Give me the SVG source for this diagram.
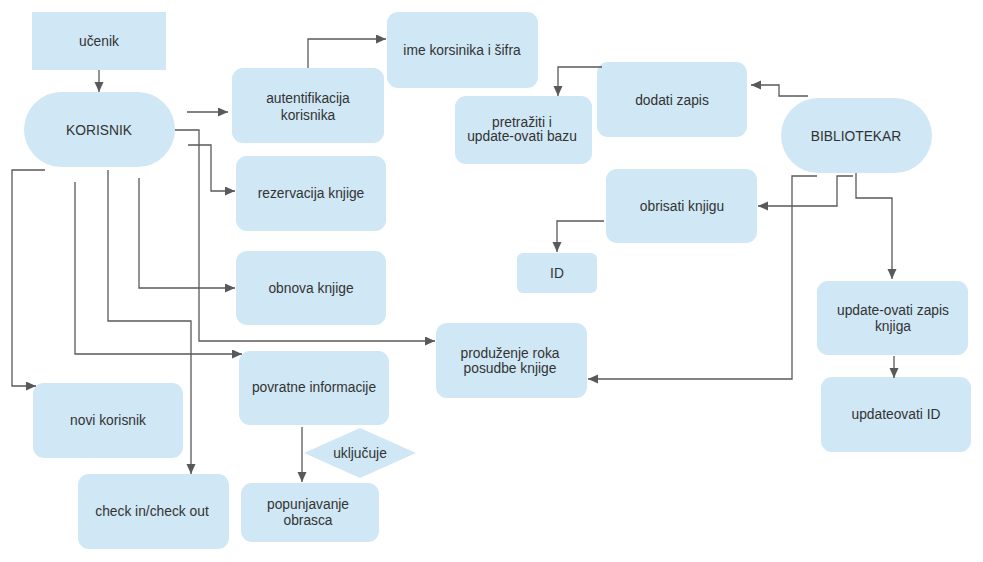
<svg xmlns="http://www.w3.org/2000/svg" width="983" height="562" viewBox="0 0 983 562">
<style>
.n{fill:#d0e7f5;stroke:none}
.t{font-family:"Liberation Sans",Arial,sans-serif;font-size:13.8px;fill:#333;text-anchor:middle}
.c{fill:none;stroke:#595959;stroke-width:1.3}
</style>
<defs>
<marker id="a" markerUnits="userSpaceOnUse" markerWidth="11" markerHeight="10" refX="10" refY="4.5" orient="auto">
<path d="M0,0 L10,4.5 L0,9 z" fill="#595959"/>
</marker>
</defs>
<rect width="983" height="562" fill="#fff"/>
<g id="ucenik"><rect class="n" x="32" y="12" width="134" height="58"/><text class="t" x="99" y="46">učenik</text></g>
<g id="korisnik"><rect class="n" x="24" y="92" width="151" height="75" rx="37.5"/><text class="t" x="99" y="135">KORISNIK</text></g>
<g id="autentifikacija"><rect class="n" x="232" y="68" width="152" height="75" rx="11"/><text class="t" x="308" y="103">autentifikacija</text><text class="t" x="308" y="120">korisnika</text></g>
<g id="ime"><rect class="n" x="387" y="12" width="151" height="76" rx="11"/><text class="t" x="462" y="55">ime korsinika i šifra</text></g>
<g id="pretraziti"><rect class="n" x="455" y="96" width="137" height="68" rx="11"/><text class="t" x="522" y="127">pretražiti i</text><text class="t" x="522" y="141">update-ovati bazu</text></g>
<g id="dodati"><rect class="n" x="597" y="62" width="150" height="75" rx="11"/><text class="t" x="672" y="105">dodati zapis</text></g>
<g id="bibliotekar"><rect class="n" x="781" y="98" width="151" height="75" rx="37.5"/><text class="t" x="856" y="141">BIBLIOTEKAR</text></g>
<g id="rezervacija"><rect class="n" x="236" y="156" width="150" height="75" rx="11"/><text class="t" x="311" y="198">rezervacija knjige</text></g>
<g id="obrisati"><rect class="n" x="606" y="169" width="151" height="74" rx="11"/><text class="t" x="682" y="211">obrisati knjigu</text></g>
<g id="id"><rect class="n" x="517" y="253" width="80" height="40" rx="6"/><text class="t" x="557" y="278">ID</text></g>
<g id="obnova"><rect class="n" x="236" y="251" width="150" height="74" rx="11"/><text class="t" x="311" y="293">obnova knjige</text></g>
<g id="produzenje"><rect class="n" x="436" y="323" width="151" height="75" rx="11"/><text class="t" x="510" y="358">produženje roka</text><text class="t" x="510" y="373">posudbe knjige</text></g>
<g id="updatezapis"><rect class="n" x="817" y="281" width="151" height="74" rx="11"/><text class="t" x="893" y="315">update-ovati zapis</text><text class="t" x="893" y="331">knjiga</text></g>
<g id="updateid"><rect class="n" x="821" y="377" width="150" height="75" rx="11"/><text class="t" x="896" y="419">updateovati ID</text></g>
<g id="povratne"><rect class="n" x="239" y="351" width="150" height="74" rx="11"/><text class="t" x="314" y="392">povratne informacije</text></g>
<g id="novi"><rect class="n" x="33" y="383" width="150" height="75" rx="11"/><text class="t" x="108" y="425">novi korisnik</text></g>
<g id="check"><rect class="n" x="78" y="474" width="151" height="75" rx="11"/><text class="t" x="152" y="516">check in/check out</text></g>
<g id="popunjavanje"><rect class="n" x="241" y="483" width="138" height="59" rx="11"/><text class="t" x="308" y="509">popunjavanje</text><text class="t" x="308" y="525">obrasca</text></g>
<g id="ukljucuje"><polygon class="n" points="304,453 360,428 416,453 360,478"/><text class="t" x="360" y="458">uključuje</text></g>
<g id="connectors">
<path class="c" d="M99,70 V92" marker-end="url(#a)"/>
<path class="c" d="M187,112 H228" marker-end="url(#a)"/>
<path class="c" d="M308,68 V39 H386" marker-end="url(#a)"/>
<path class="c" d="M175,130 H199 V341 H435" marker-end="url(#a)"/>
<path class="c" d="M188,145 H211 V191 H235" marker-end="url(#a)"/>
<path class="c" d="M45,170 H12 V386 H36" marker-end="url(#a)"/>
<path class="c" d="M75,182 V354 H242" marker-end="url(#a)"/>
<path class="c" d="M108,170 V321 H191 V474" marker-end="url(#a)"/>
<path class="c" d="M139,178 V288 H235" marker-end="url(#a)"/>
<path class="c" d="M302,427 V482" marker-end="url(#a)"/>
<path class="c" d="M602,67 H558 V96" marker-end="url(#a)"/>
<path class="c" d="M808,96 H779 V85 H751" marker-end="url(#a)"/>
<path class="c" d="M853,176 H837 V206 H758" marker-end="url(#a)"/>
<path class="c" d="M856,173 V198 H892 V279" marker-end="url(#a)"/>
<path class="c" d="M817,176 H792 V379 H588" marker-end="url(#a)"/>
<path class="c" d="M894,356 V378" marker-end="url(#a)"/>
<path class="c" d="M604,221 H557 V252" marker-end="url(#a)"/>
</g>
</svg>
